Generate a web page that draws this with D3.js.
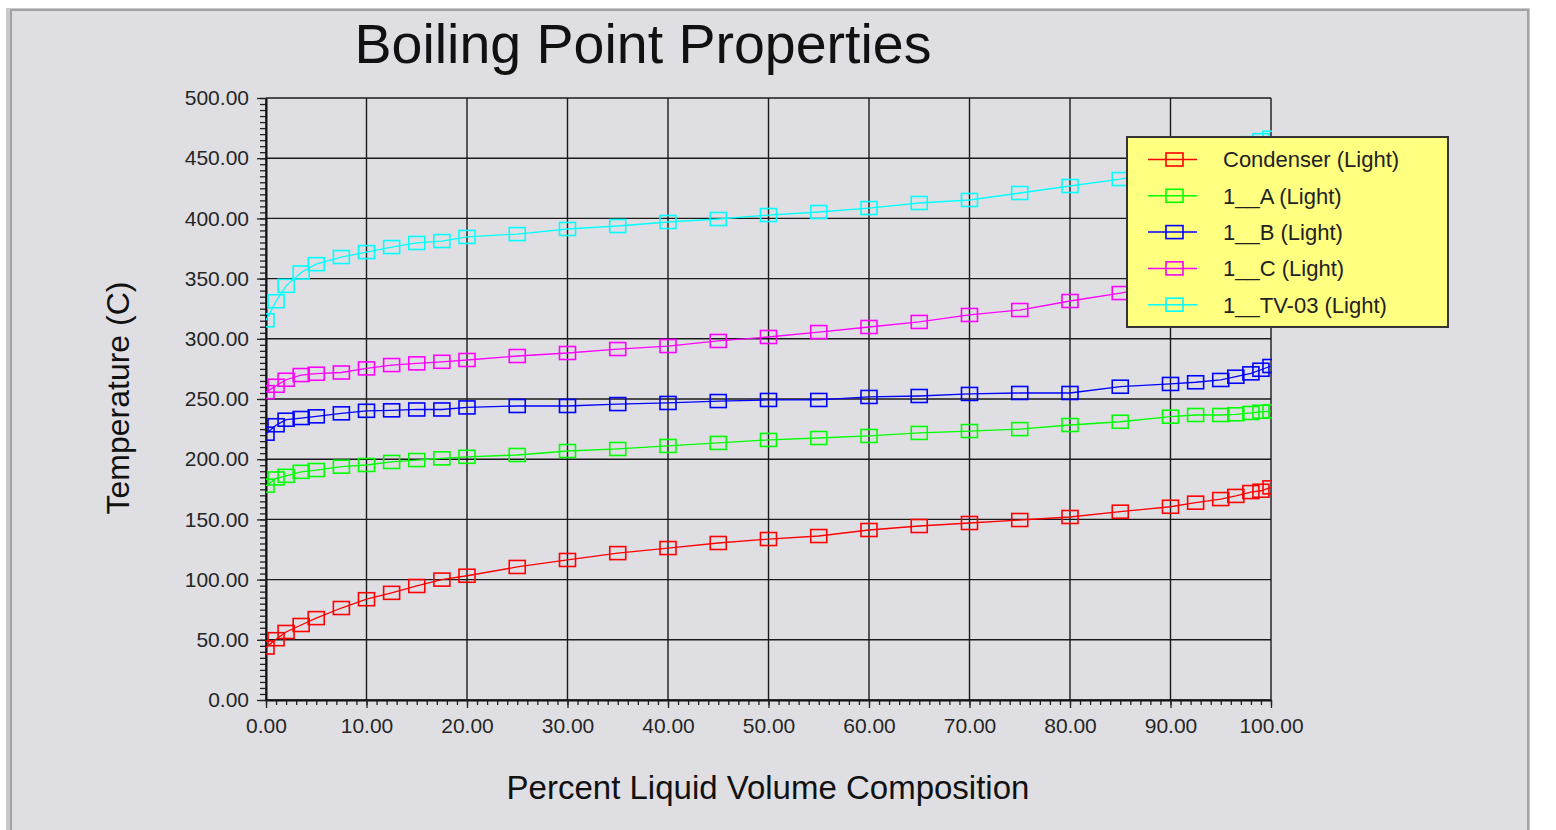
<!DOCTYPE html>
<html>
<head>
<meta charset="utf-8">
<title>Boiling Point Properties</title>
<script src="https://cdn.jsdelivr.net/npm/d3@7/dist/d3.min.js"></script>
<style>
  html, body { margin: 0; padding: 0; background: #ffffff; }
  svg { display: block; font-family: "Liberation Sans", Arial, sans-serif; }
</style>
</head>
<body>
<svg id="chart" width="1556" height="830"></svg>
<script>
// Percent liquid volume points of the boiling point curves
const pctPoints = [0, 1, 2, 3.5, 5, 7.5, 10, 12.5, 15, 17.5, 20, 25, 30, 35, 40, 45, 50,
  55, 60, 65, 70, 75, 80, 85, 90, 92.5, 95, 96.5, 98, 99, 100];

// Temperatures (C) per stream
const condenserLight = [43.6, 50.5, 56.5, 62.3, 68, 76.4, 83.7, 89, 94.7, 100, 103.2, 110.5,
  116.3, 122, 126.2, 130.4, 133.7, 136.2, 141.2, 144.5, 147, 149.5, 152, 156.4, 160.5, 163.9,
  166.9, 169.5, 172.7, 173.8, 176.6];
const aLight = [178, 184, 186.2, 189.5, 191, 193.8, 195.2, 197.7, 199.3, 200.7, 202, 203.5,
  206.8, 208.5, 211, 213.5, 216, 217.6, 219.3, 221.8, 223.4, 225, 228.4, 231.1, 235.3, 236.7,
  236.7, 237.3, 238.4, 239.4, 239.8];
const bLight = [221.2, 228.2, 232.8, 234.2, 235.6, 238.1, 240.2, 240.6, 241.3, 241.3, 243,
  244.2, 244.2, 245.8, 246.7, 248.3, 249.2, 249.2, 251.7, 252.5, 254.2, 255, 255, 260.2, 262.5,
  263.9, 265.8, 268.5, 271.3, 274.3, 277.4];
const cLight = [255.7, 261, 266, 269.9, 271, 272, 275.4, 278.2, 279.6, 280.9, 282.4, 285.7,
  288.2, 291.5, 294, 298.2, 301.5, 305.6, 309.8, 314, 319.8, 323.9, 331.4, 338, 346, 350, 355,
  359, 364, 368, 373];
const tv03Light = [315.4, 331.2, 344, 355.1, 362, 367.9, 372, 376.2, 379.6, 381.2, 384.6, 387,
  391.2, 393.7, 397, 399.5, 402.8, 405.3, 408.6, 412.8, 415.3, 421.1, 426.9, 432.7, 441, 446,
  452, 457, 462.5, 465, 467];

const seriesNames = ["Condenser (Light)", "1__A (Light)", "1__B (Light)", "1__C (Light)", "1__TV-03 (Light)"];
const seriesValues = [condenserLight, aLight, bLight, cLight, tv03Light];
const seriesColors = ["#ff0000", "#00ff00", "#0000ff", "#ff00ff", "#00ffff"];

const xTicks = d3.range(0, 101, 10);
const yTicks = d3.range(0, 501, 50);

const svg = d3.select("#chart");

// window panel
svg.append("rect").attr("x", 6).attr("y", 8).attr("width", 1524).attr("height", 830)
  .attr("fill", "#c9c9cc");
svg.append("rect").attr("x", 11).attr("y", 10).attr("width", 1517).attr("height", 830)
  .attr("fill", "#dfdfe3").attr("stroke", "#a2a2a6").attr("stroke-width", 2);

const x = d3.scaleLinear().domain([0, 100]).range([266, 1271]);
const y = d3.scaleLinear().domain([0, 500]).range([700, 98]);

// title
svg.append("text").attr("x", 643).attr("y", 63).attr("text-anchor", "middle")
  .attr("font-size", 55.5).attr("fill", "#111").text("Boiling Point Properties");

// grid
const grid = svg.append("g").attr("stroke", "#1a1a1a").attr("stroke-width", 1.4);
grid.selectAll("line.v").data(xTicks).join("line").attr("class", "v")
  .attr("x1", d => x(d)).attr("x2", d => x(d)).attr("y1", y(500)).attr("y2", y(0));
grid.selectAll("line.h").data(yTicks).join("line").attr("class", "h")
  .attr("x1", x(0)).attr("x2", x(100)).attr("y1", d => y(d)).attr("y2", d => y(d));

// minor ticks
svg.append("g").attr("transform", `translate(${x(0)},0)`)
  .call(d3.axisLeft(y).tickValues(d3.range(0, 501, 5)).tickSize(6).tickFormat(""))
  .call(g => g.select(".domain").remove())
  .call(g => g.selectAll("line").attr("stroke", "#222").attr("stroke-width", 1.3));
svg.append("g").attr("transform", `translate(0,${y(0)})`)
  .call(d3.axisBottom(x).tickValues(d3.range(0, 101, 1)).tickSize(5).tickFormat(""))
  .call(g => g.select(".domain").remove())
  .call(g => g.selectAll("line").attr("stroke", "#222").attr("stroke-width", 1.3));

// major axes
const fmt = d3.format(".2f");
svg.append("g").attr("transform", `translate(${x(0)},0)`)
  .call(d3.axisLeft(y).tickValues(yTicks).tickSize(9).tickPadding(8).tickFormat(fmt).tickSizeOuter(0))
  .call(g => g.select(".domain").attr("stroke", "#111").attr("stroke-width", 2))
  .call(g => g.selectAll("line").attr("stroke", "#222").attr("stroke-width", 1.3))
  .call(g => g.selectAll("text").attr("font-size", 21).attr("fill", "#262626")
    .attr("font-family", "'Liberation Sans', Arial, sans-serif"));
svg.append("g").attr("transform", `translate(0,${y(0)})`)
  .call(d3.axisBottom(x).tickValues(xTicks).tickSize(8).tickPadding(10).tickFormat(fmt).tickSizeOuter(0))
  .call(g => g.select(".domain").attr("stroke", "#111").attr("stroke-width", 2))
  .call(g => g.selectAll("line").attr("stroke", "#222").attr("stroke-width", 1.3))
  .call(g => g.selectAll("text").attr("font-size", 21).attr("fill", "#262626")
    .attr("font-family", "'Liberation Sans', Arial, sans-serif"));

// axis titles
svg.append("text").attr("transform", "translate(129,398) rotate(-90)")
  .attr("text-anchor", "middle").attr("font-size", 32).attr("fill", "#111").text("Temperature (C)");
svg.append("text").attr("x", 768).attr("y", 799).attr("text-anchor", "middle")
  .attr("font-size", 33).attr("fill", "#111").text("Percent Liquid Volume Composition");

// clip for markers
svg.append("defs").append("clipPath").attr("id", "plotClip")
  .append("rect").attr("x", x(0)).attr("y", 80).attr("width", x(100) - x(0) + 1).attr("height", 640);

const line = d3.line().x((d, i) => x(pctPoints[i])).y(d => y(d));
const mw = 16, mh = 13;

seriesValues.forEach((vals, s) => {
  const g = svg.append("g");
  g.append("path").datum(vals).attr("d", line).attr("fill", "none")
    .attr("stroke", seriesColors[s]).attr("stroke-width", 1.3);
  g.append("g").attr("clip-path", "url(#plotClip)")
    .selectAll("rect").data(vals).join("rect")
    .attr("x", (d, i) => x(pctPoints[i]) - mw / 2)
    .attr("y", d => y(d) - mh / 2)
    .attr("width", mw).attr("height", mh)
    .attr("fill", "none").attr("stroke", seriesColors[s]).attr("stroke-width", 1.6);
});

// legend
const legend = svg.append("g");
legend.append("rect").attr("x", 1127).attr("y", 137).attr("width", 321).attr("height", 190)
  .attr("fill", "#ffff80").attr("stroke", "#333").attr("stroke-width", 2);
const rowY = d3.scaleLinear().domain([0, 4]).range([159.5, 304.7]);
seriesNames.forEach((name, s) => {
  const cy = rowY(s);
  legend.append("line").attr("x1", 1148).attr("x2", 1197).attr("y1", cy).attr("y2", cy)
    .attr("stroke", seriesColors[s]).attr("stroke-width", 1.5);
  legend.append("rect").attr("x", 1166).attr("y", cy - 6.5).attr("width", 17).attr("height", 13)
    .attr("fill", "none").attr("stroke", seriesColors[s]).attr("stroke-width", 1.6);
  legend.append("text").attr("x", 1223).attr("y", cy).attr("dy", "0.36em")
    .attr("font-size", 22).attr("fill", "#222").text(name);
});
</script>
</body>
</html>
